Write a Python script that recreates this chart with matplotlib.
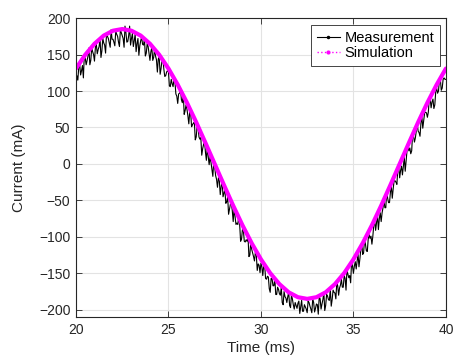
import matplotlib
matplotlib.use("Agg")
import matplotlib.pyplot as plt
import numpy as np
from matplotlib.lines import Line2D

plt.rcParams['font.family'] = ['Liberation Sans', 'DejaVu Sans']

# measured current (mA): samples at 20.00, 20.10, ... 40.00 ms
measurement_a = [
    106, 115, 137, 128, 118, 145, 142, 159, 142, 154,
    141, 164, 157, 172, 155, 166, 152, 175, 166, 184,
    171, 162, 178, 167, 184, 176, 160, 180, 168, 189,
    172, 161, 178, 165, 149, 169, 164, 172, 152, 161,
    142, 160, 146, 148, 126, 146, 131, 144, 120, 126,
    126, 106, 110, 117, 96, 83, 97, 88, 97, 73,
    75, 55, 70, 54, 57, 37, 51, 34, 12, 27,
    16, 24, -1, 2, -17, -4, -21, -19, -42, -23,
    -40, -54, -45, -62, -54, -79, -72, -81, -71, -106,
    -90, -106, -104, -100, -125, -117, -127, -121, -146, -139,
    -136, -153, -138, -158, -155, -176, -157, -167, -179, -169,
    -178, -169, -193, -182, -190, -176, -197, -185, -199, -194,
    -191, -205, -187, -202, -196, -204, -190, -199, -185, -203,
    -192, -206, -185, -192, -176, -194, -181, -187, -195, -173,
    -177, -163, -180, -166, -169, -153, -173, -151, -153, -134,
    -150, -134, -133, -141, -117, -124, -104, -119, -103, -102,
    -110, -84, -91, -70, -75, -79, -60, -60, -37, -53,
    -39, -47, -23, -25, -7, -19, -3, -3, -10, 19,
    18, 14, 42, 30, 45, 45, 38, 65, 60, 71,
    64, 89, 77, 89, 81, 104, 100, 116, 104, 118,
    116,
]
# measured current (mA): samples at 20.05, 20.15, ... 39.95 ms
measurement_b = [
    121, 133, 122, 135, 149, 136, 148, 136, 159, 150,
    160, 151, 161, 146, 172, 163, 178, 172, 160, 171,
    167, 182, 175, 161, 180, 172, 189, 167, 176, 163,
    179, 169, 154, 172, 162, 174, 163, 148, 165, 152,
    154, 142, 158, 143, 144, 123, 142, 130, 121, 128,
    107, 116, 106, 113, 93, 96, 103, 84, 68, 81,
    66, 72, 51, 56, 33, 52, 37, 36, 21, 31,
    5, 10, 10, -7, 5, -16, -32, -23, -31, -45,
    -35, -52, -69, -55, -64, -61, -83, -83, -83, -103,
    -91, -107, -106, -127, -106, -122, -133, -125, -137, -149,
    -141, -139, -157, -154, -171, -157, -167, -157, -179, -172,
    -180, -190, -175, -184, -182, -194, -180, -193, -190, -198,
    -188, -196, -202, -193, -199, -188, -195, -204, -190, -198,
    -193, -182, -199, -186, -201, -179, -186, -171, -186, -176,
    -185, -167, -170, -158, -169, -157, -145, -156, -163, -140,
    -140, -144, -124, -130, -109, -122, -110, -120, -97, -99,
    -99, -78, -81, -90, -67, -67, -49, -60, -47, -53,
    -30, -34, -23, -28, -4, -9, -15, 9, 5, 23,
    22, 18, 38, 36, 55, 43, 56, 49, 70, 70,
    71, 89, 85, 76, 99, 97, 116, 101, 116, 116,
]

# simulated current (mA), every 0.5 ms from 20 to 40 ms
simulation = [
    130.8, 149.7, 164.8, 176.0, 182.7, 185.0, 182.7, 176.0, 164.8, 149.7,
    130.8, 108.7, 84.0, 57.2, 28.9, 0.0, -28.9, -57.2, -84.0, -108.7,
    -130.8, -149.7, -164.8, -176.0, -182.7, -185.0, -182.7, -176.0, -164.8, -149.7,
    -130.8, -108.7, -84.0, -57.2, -28.9, 0.0, 28.9, 57.2, 84.0, 108.7,
    130.8,
]

x_ticks = [20, 25, 30, 35, 40]
y_ticks = [-200, -150, -100, -50, 0, 50, 100, 150, 200]

# put both sample sets back in time order
measurement = np.empty(len(measurement_a) + len(measurement_b))
measurement[0::2] = measurement_a
measurement[1::2] = measurement_b
t_meas = np.linspace(20, 40, len(measurement))
t_sim = np.linspace(20, 40, len(simulation))

fig = plt.figure(figsize=(4.55, 3.62), dpi=100)
ax = fig.add_axes([0.167, 0.124, 0.813, 0.826])

ax.plot(t_meas, measurement, color='k', lw=0.8)
ax.plot(t_sim, simulation, color='#ff00ff', lw=3.0, solid_capstyle='round')

ax.set_xlim(20, 40)
ax.set_ylim(-210, 200)
ax.set_xticks(x_ticks)
ax.set_yticks(y_ticks)
ax.grid(True, color='#e3e3e3', lw=0.8)
ax.set_axisbelow(True)

edge = '#262626'
for s in ax.spines.values():
    s.set_color(edge)
    s.set_linewidth(0.8)
ax.tick_params(direction='in', top=True, right=True, length=4, width=0.6,
               color=edge, labelsize=10, labelcolor='#262626', pad=4)

ax.set_xlabel('Time (ms)', fontsize=11, color='#262626', labelpad=3)
ax.set_ylabel('Current (mA)', fontsize=11, color='#262626', labelpad=9)

handles = [
    Line2D([], [], color='k', lw=0.8, marker='.', ms=3),
    Line2D([], [], color='#ff00ff', lw=1.0, ls=':', marker='.', ms=4),
]
leg = ax.legend(handles, ['Measurement', 'Simulation'], loc='upper right',
                bbox_to_anchor=(0.984, 0.977), borderaxespad=0, fontsize=10.5,
                frameon=True, fancybox=False, framealpha=1, edgecolor=edge,
                handlelength=1.6, handletextpad=0.3, borderpad=0.4,
                labelspacing=0.1)
leg.get_frame().set_linewidth(0.6)

fig.savefig('out.png', dpi=100)
